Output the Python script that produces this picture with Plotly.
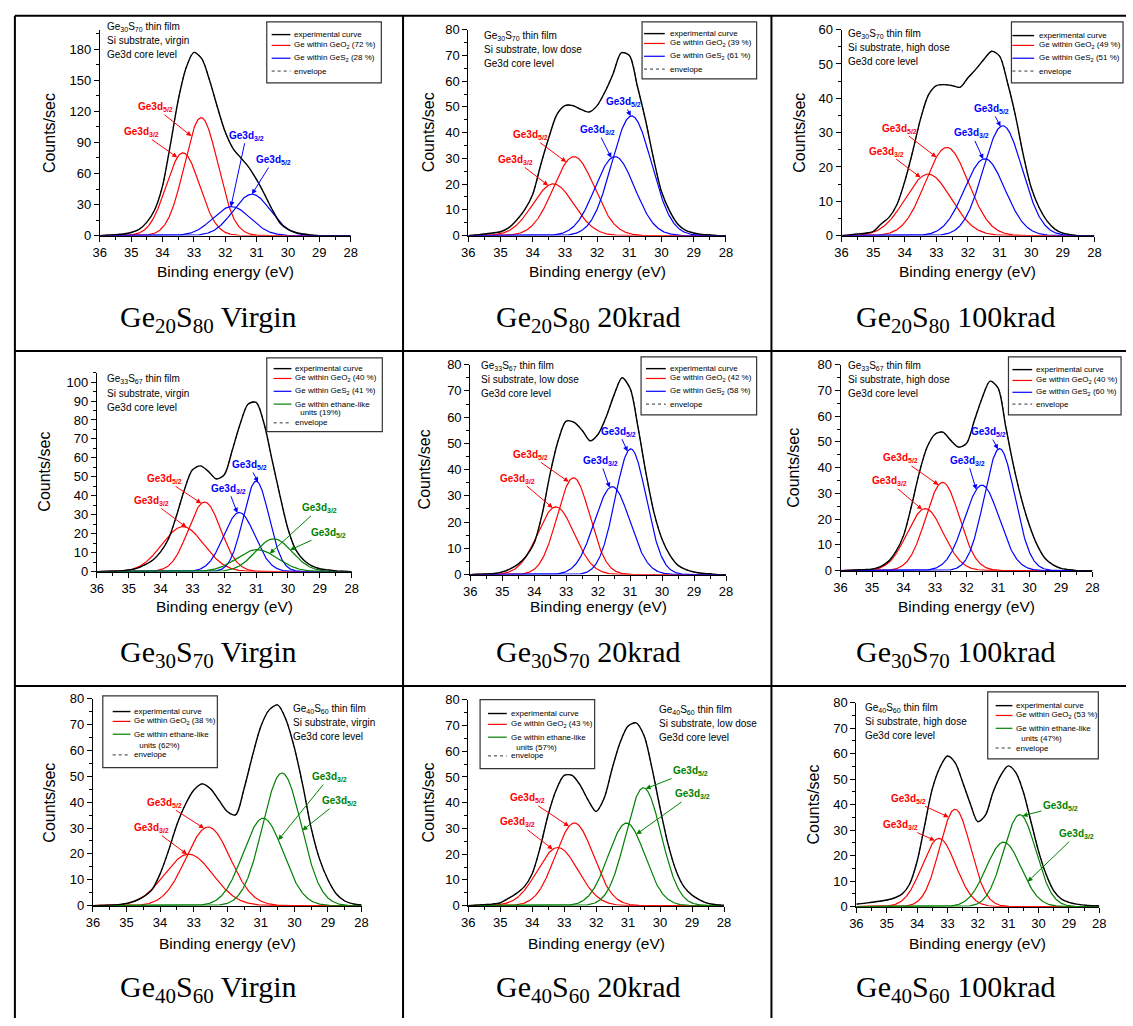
import numpy as np
import plotly.graph_objects as go

W, H = 1133, 1026

# ---------------------------------------------------------------------------
# Measured Ge3d spectra (counts/sec) on a common binding-energy grid (eV)
# ---------------------------------------------------------------------------
ENERGY = [36.0, 35.75, 35.5, 35.25, 35.0, 34.75, 34.5, 34.25, 34.0, 33.75, 33.5,
          33.25, 33.0, 32.75, 32.5, 32.25, 32.0, 31.75, 31.5, 31.25, 31.0, 30.75,
          30.5, 30.25, 30.0, 29.75, 29.5, 29.25, 29.0, 28.75, 28.5, 28.25, 28.0]

EXP_20_VIRGIN = [0, 0.5, 1, 1.5, 3, 6, 13, 25, 48, 88, 131, 162, 177, 171, 150, 124,
                 100, 84, 75, 66, 54, 40, 25, 12, 6, 3, 1.5, 0.5, 0, 0, 0, 0, 0]
EXP_20_20K = [0, 0.3, 0.6, 1, 1.5, 3, 6, 10, 16, 27.5, 38, 47, 50.5, 50.5, 49, 48,
              50.5, 56, 63, 71, 70, 58, 45, 30, 17, 9.6, 4.5, 2, 1, 0.5, 0.3, 0, 0]
EXP_20_100K = [0, 0.2, 0.5, 0.7, 1.2, 3.4, 5.3, 9, 15.8, 24.5, 34, 41, 43.7, 44, 43.7,
               43.2, 46, 48.5, 51.3, 53.7, 52.3, 44.6, 35, 23.5, 14, 8.2, 4.3, 1.9,
               0.7, 0.3, 0, 0, 0]
EXP_30_VIRGIN = [0, 0.1, 0.2, 0.4, 0.9, 1.7, 3.5, 6, 10.4, 17.3, 29.5, 43.3, 53.7, 55.8,
                 52.9, 48.9, 51.1, 64, 78, 88.4, 89.3, 78, 59, 40, 22.5, 11.3, 6, 3,
                 1.5, 0.9, 0.4, 0.2, 0]
EXP_30_20K = [0, 0.1, 0.25, 0.4, 1, 2.2, 4, 7, 12, 23, 38.5, 51, 58.5, 58, 55, 51,
              53.5, 60, 68.5, 75, 71, 56, 38.5, 23.5, 13.5, 7.3, 3.5, 1.9, 1, 0.5,
              0.3, 0, 0]
EXP_30_100K = [0, 0.1, 0.25, 0.4, 0.6, 1.5, 3.4, 7.3, 13.6, 25, 38, 48, 53, 53.8, 50.6,
               48, 49.4, 58.3, 67.2, 73.6, 71, 55.7, 40.4, 27.7, 17.5, 9.8, 4.7, 2.2,
               0.9, 0.4, 0, 0, 0]
EXP_40_VIRGIN = [0, 0.1, 0.2, 0.4, 0.9, 1.8, 3.4, 6, 12.3, 21.2, 31.3, 39, 44.6, 47.1,
                 45.2, 40.8, 36.4, 35.1, 45.2, 57.9, 69.3, 75.7, 77.6, 71.9, 61, 46.5,
                 30, 18, 10, 4.5, 1.8, 0.7, 0.3]
EXP_40_20K = [0, 0.2, 0.4, 0.6, 1.1, 2.8, 4.7, 7.3, 12.4, 22.6, 35.3, 44.9, 50.6, 50.6,
              46.8, 41, 36.6, 41.7, 53.2, 63.4, 69.8, 71, 66, 53.2, 37.9, 23.9, 13.6,
              7.3, 4.1, 2.2, 0.9, 0.4, 0.2]
EXP_40_100K = [1, 1.3, 1.7, 2.1, 2.6, 3.4, 4.9, 8.8, 17.8, 32, 46.2, 54.6, 59.1, 56.5,
               48.8, 40.4, 33.3, 35.9, 44.9, 51.4, 55.2, 52.6, 44.9, 33.3, 21.7, 12.6,
               6.2, 3, 1.7, 1, 0.6, 0.4, 0.3]

# ---------------------------------------------------------------------------
# Fitted components: (centre eV, height counts/sec, FWHM eV)
# ---------------------------------------------------------------------------
FIT_20_VIRGIN = [(33.35, 80, 1.25), (32.77, 114, 1.25), (31.80, 28, 1.4), (31.15, 40, 1.4)]
FIT_20_20K = [(33.36, 20.1, 1.5), (32.72, 30.7, 1.5), (31.45, 30.7, 1.45), (30.93, 46.5, 1.45)]
FIT_20_100K = [(33.26, 17.9, 1.7), (32.67, 25.7, 1.6), (31.47, 22.4, 1.5), (30.90, 32.0, 1.45)]
FIT_30_VIRGIN = [(33.30, 23.7, 1.55), (32.62, 36.7, 1.2), (31.53, 31.2, 1.15),
                 (31.00, 47.7, 0.95), (30.97, 11.6, 1.5), (30.45, 17.3, 1.35)]
FIT_30_20K = [(33.32, 25.8, 1.35), (32.77, 36.9, 1.2), (31.56, 33.5, 1.3), (30.98, 47.9, 1.15)]
FIT_30_100K = [(33.31, 24.1, 1.35), (32.76, 34.3, 1.25), (31.51, 33.2, 1.3), (30.95, 47.4, 1.15)]
FIT_40_VIRGIN = [(33.15, 19.9, 1.7), (32.57, 30.4, 1.55), (30.93, 33.8, 1.4), (30.37, 51.3, 1.35)]
FIT_40_20K = [(33.20, 22.6, 1.5), (32.68, 32.1, 1.4), (31.05, 32.1, 1.35), (30.52, 45.8, 1.3)]
FIT_40_100K = [(33.28, 26.8, 1.3), (32.75, 38.2, 1.2), (31.15, 25.3, 1.35), (30.62, 36.1, 1.25)]

# bonding environment of each component and its spin-orbit level
PHASE_TWO = ["GeO2", "GeO2", "GeS2", "GeS2"]
PHASE_THREE = ["GeO2", "GeO2", "GeS2", "GeS2", "ethane", "ethane"]
PHASE_ETHANE = ["GeO2", "GeO2", "ethane", "ethane"]
LEVEL_TWO = ["3/2", "5/2", "3/2", "5/2"]
LEVEL_THREE = ["3/2", "5/2", "3/2", "5/2", "3/2", "5/2"]

# phase fractions quoted in the legends (%)
GEO2_SHARE = [72, 39, 49, 40, 42, 40, 38, 43, 53]
GES2_SHARE = [28, 61, 51, 41, 58, 60, None, None, None]
ETHANE_SHARE = [None, None, None, 19, None, None, 62, 57, 47]

COMPOSITION = ["Ge<sub>20</sub>S<sub>80</sub>", "Ge<sub>30</sub>S<sub>70</sub>",
               "Ge<sub>40</sub>S<sub>60</sub>"]
FILM_LABEL = ["Ge<sub>30</sub>S<sub>70</sub>", "Ge<sub>33</sub>S<sub>67</sub>",
              "Ge<sub>40</sub>S<sub>60</sub>"]
DOSE = ["Virgin", "20krad", "100krad"]
DOSE_TEXT = ["virgin", "low dose", "high dose"]

COLORS = {"GeO2": "#ff0000", "GeS2": "#0000ff", "ethane": "#008000"}

# ---------------------------------------------------------------------------
# Page geometry (pixels)
# ---------------------------------------------------------------------------
# x_left, x_right, y_top, y_zero, ymax, dtick, minor dtick
AXES_PX = [
    (94, 348, 23, 232, 199, 30, 15),
    (467, 728, 23, 232, 80, 10, 5),
    (845, 1101, 23, 232, 60, 10, 5),
    (91, 349, 371, 573, 105, 10, 5),
    (469, 728, 363, 576, 80, 10, 5),
    (844, 1099, 363, 572, 80, 10, 5),
    (87, 359, 702, 912, 80, 10, 5),
    (467, 726, 703, 912, 80, 10, 5),
    (860, 1106, 706, 913, 80, 10, 5),
]
YTITLE_X = [43, 427, 803, 38, 423, 797, 43, 427, 817]
XTITLE_Y = [268, 608, 950]
CAPTION_X = [204, 588, 960]
CAPTION_Y = [317, 657, 997]
INFO_POS = [(99, 20), (481, 29), (850, 27), (99, 378), (478, 364), (850, 364),
            (288, 712), (658, 713), (867, 711)]
INFO_STEP = 14

# legend: box (x0, y0, x1, y1), sample line x0, x1, text x, row y's
LEGEND_PX = [
    ((263, 15, 379, 77), 268, 287, 289, [28, 39, 52, 65]),
    ((643, 15, 759, 73), 645, 666, 669, [27, 37, 50, 63]),
    ((1017, 15, 1130, 77), 1018, 1040, 1043, [29, 39, 52, 65]),
    ((263, 356, 380, 431), 270, 288, 290, [367, 377, 390, 403, 412, 422]),
    ((642, 355, 759, 414), 647, 667, 669, [367, 377, 390, 403]),
    ((1014, 355, 1128, 414), 1018, 1038, 1040, [368, 379, 391, 403]),
    ((97, 699, 213, 772), 107, 125, 127, [715, 725, 738, 749, 759]),
    ((479, 703, 595, 773), 487, 506, 508, [717, 728, 741, 751, 760]),
    ((993, 695, 1105, 763), 1001, 1018, 1020, [709, 719, 732, 742, 752]),
]

# peak labels: (component index, arrow-tip energy, label energy, label height)
PEAK_LABELS = [
    [(0, 33.53, 34.68, 100), (1, 33.08, 34.24, 124), (2, 31.82, 31.33, 96.5), (3, 31.15, 30.47, 73)],
    [(0, 33.52, 34.54, 29.4), (1, 32.96, 34.08, 39), (2, 31.56, 31.99, 41), (3, 30.96, 31.17, 51.9)],
    [(0, 33.50, 34.59, 24.5), (1, 33.00, 34.18, 31.2), (2, 31.52, 31.89, 29.8), (3, 30.97, 31.26, 36.9)],
    [(0, 33.19, 34.29, 37.3), (1, 32.72, 33.88, 48.9), (2, 31.59, 31.88, 43.7), (3, 30.94, 31.22, 56.3),
     (4, 30.57, 29.02, 33.4), (5, 29.93, 28.74, 20.5)],
    [(0, 33.42, 34.51, 36.6), (1, 32.92, 34.12, 45.6), (2, 31.64, 31.93, 43.3), (3, 31.08, 31.36, 54.5)],
    [(0, 33.41, 34.46, 34.7), (1, 32.89, 34.09, 43.6), (2, 31.69, 31.97, 42.7), (3, 31.00, 31.29, 53.8)],
    [(0, 33.20, 34.25, 30), (1, 32.69, 33.88, 39.8), (2, 30.48, 28.96, 49.7), (3, 29.76, 28.67, 40.4)],
    [(0, 33.36, 34.45, 32.4), (1, 32.85, 34.16, 41.7), (3, 30.45, 29.05, 52.3), (2, 30.74, 29.00, 43.2)],
    [(0, 33.42, 34.54, 32), (1, 32.96, 34.27, 42.3), (3, 30.53, 29.28, 39.5), (2, 30.36, 28.74, 28.4)],
]

EXPS = [EXP_20_VIRGIN, EXP_20_20K, EXP_20_100K, EXP_30_VIRGIN, EXP_30_20K, EXP_30_100K,
        EXP_40_VIRGIN, EXP_40_20K, EXP_40_100K]
FITS = [FIT_20_VIRGIN, FIT_20_20K, FIT_20_100K, FIT_30_VIRGIN, FIT_30_20K, FIT_30_100K,
        FIT_40_VIRGIN, FIT_40_20K, FIT_40_100K]
PHASES = [PHASE_TWO, PHASE_TWO, PHASE_TWO, PHASE_THREE, PHASE_TWO, PHASE_TWO,
          PHASE_ETHANE, PHASE_ETHANE, PHASE_ETHANE]
LEVELS = [LEVEL_TWO, LEVEL_TWO, LEVEL_TWO, LEVEL_THREE, LEVEL_TWO, LEVEL_TWO,
          LEVEL_TWO, LEVEL_TWO, LEVEL_TWO]

SANS = "Arial, Liberation Sans, sans-serif"
SERIF = "Times New Roman, Liberation Serif, serif"


def px(x):
    return x / W


def py(y):
    return 1 - y / H


def gauss(x, centre, height, fwhm):
    sigma = fwhm / 2.3548
    return height * np.exp(-0.5 * ((np.asarray(x) - centre) / sigma) ** 2)


fig = go.Figure()
shapes = []
annotations = []
layout_axes = {}
grid = np.linspace(36, 28, 801)

for i in range(9):
    n = i + 1
    suffix = "" if n == 1 else str(n)
    xa, ya = "x" + suffix, "y" + suffix
    x0, x1, ytop, yzero, ymax, dtick, minor = AXES_PX[i]

    # fitted components
    for comp, phase in zip(FITS[i], PHASES[i]):
        fig.add_trace(go.Scatter(
            x=grid, y=gauss(grid, *comp), mode="lines", xaxis=xa, yaxis=ya,
            line=dict(color=COLORS[phase], width=1.2), showlegend=False,
            hoverinfo="skip"))
    # fit envelope and experimental curve
    fig.add_trace(go.Scatter(
        x=ENERGY, y=EXPS[i], mode="lines", xaxis=xa, yaxis=ya,
        line=dict(color="#444444", width=1, dash="dot", shape="spline"),
        showlegend=False, hoverinfo="skip"))
    fig.add_trace(go.Scatter(
        x=ENERGY, y=EXPS[i], mode="lines", xaxis=xa, yaxis=ya,
        line=dict(color="#000000", width=1.4, shape="spline", smoothing=0.8),
        showlegend=False, hoverinfo="skip"))

    tickfont = dict(family=SANS, size=13, color="#000000")
    layout_axes["xaxis" + suffix] = dict(
        domain=[px(x0), px(x1)], range=[36, 28], anchor=ya, showline=True,
        linecolor="#000000", linewidth=1, ticks="outside", ticklen=5, tickwidth=1,
        tickcolor="#000000", dtick=1, tick0=0, showgrid=False, zeroline=False,
        tickfont=tickfont, layer="below traces",
        minor=dict(ticks="outside", ticklen=3, dtick=0.5, tick0=0,
                   tickcolor="#000000", showgrid=False))
    layout_axes["yaxis" + suffix] = dict(
        domain=[py(yzero), py(ytop)], range=[0, ymax], anchor=xa, showline=True,
        linecolor="#000000", linewidth=1, ticks="outside", ticklen=5, tickwidth=1,
        tickcolor="#000000", dtick=dtick, tick0=0, showgrid=False, zeroline=False,
        tickfont=tickfont, layer="below traces",
        minor=dict(ticks="outside", ticklen=3, dtick=minor, tick0=0,
                   tickcolor="#000000", showgrid=False))

    row, col = divmod(i, 3)

    # axis titles
    annotations.append(dict(
        x=px(YTITLE_X[i]), y=py((ytop + yzero) / 2), xref="paper", yref="paper",
        text="Counts/sec", textangle=-90, showarrow=False, xanchor="center",
        yanchor="middle", font=dict(family=SANS, size=16, color="#000000")))
    annotations.append(dict(
        x=px((x0 + x1) / 2), y=py(XTITLE_Y[row]), xref="paper", yref="paper",
        text="Binding energy (eV)", showarrow=False, xanchor="center",
        yanchor="middle", font=dict(family=SANS, size=15.5, color="#000000")))
    # caption
    annotations.append(dict(
        x=px(CAPTION_X[col]), y=py(CAPTION_Y[row]), xref="paper", yref="paper",
        text=f"{COMPOSITION[row]} {DOSE[col]}", showarrow=False, xanchor="center",
        yanchor="middle", font=dict(family=SERIF, size=30, color="#000000")))
    # sample description
    ix, iy = INFO_POS[i]
    info = [f"{FILM_LABEL[row]} thin film", f"Si substrate, {DOSE_TEXT[col]}",
            "Ge3d core level"]
    for k, line in enumerate(info):
        annotations.append(dict(
            x=px(ix), y=py(iy + k * INFO_STEP), xref="paper", yref="paper",
            text=line, showarrow=False, xanchor="left", yanchor="middle",
            font=dict(family=SANS, size=10, color="#000000")))

    # peak labels with arrows
    for comp_idx, tip_e, lab_e, lab_y in PEAK_LABELS[i]:
        comp = FITS[i][comp_idx]
        color = COLORS[PHASES[i][comp_idx]]
        annotations.append(dict(
            x=tip_e, y=float(gauss(tip_e, *comp)), xref=xa, yref=ya,
            ax=lab_e, ay=lab_y, axref=xa, ayref=ya,
            text=f"<b>Ge3d<sub>{LEVELS[i][comp_idx]}</sub></b>",
            showarrow=True, arrowhead=2, arrowsize=1, arrowwidth=1,
            arrowcolor=color, standoff=0,
            font=dict(family=SANS, size=10, color=color)))

    # legend box
    (bx0, by0, bx1, by1), sx0, sx1, tx, rows = LEGEND_PX[i]
    shapes.append(dict(type="rect", xref="paper", yref="paper",
                       x0=px(bx0), x1=px(bx1), y0=py(by0), y1=py(by1),
                       line=dict(color="#333333", width=1.2), fillcolor="#ffffff",
                       layer="above"))
    entries = [("exp", "experimental curve")]
    entries.append(("GeO2", f"Ge within GeO<sub>2</sub> ({GEO2_SHARE[i]} %)"))
    if GES2_SHARE[i] is not None:
        entries.append(("GeS2", f"Ge within GeS<sub>2</sub> ({GES2_SHARE[i]} %)"))
    if ETHANE_SHARE[i] is not None:
        entries.append(("ethane", "Ge within ethane-like"))
        entries.append((None, f" units ({ETHANE_SHARE[i]}%)"))
    entries.append(("env", "envelope"))
    for (kind, label), ry in zip(entries, rows):
        if kind is not None:
            if kind == "exp":
                ln = dict(color="#000000", width=1.4)
            elif kind == "env":
                ln = dict(color="#333333", width=1, dash="dot")
            else:
                ln = dict(color=COLORS[kind], width=1.2)
            shapes.append(dict(type="line", xref="paper", yref="paper",
                               x0=px(sx0), x1=px(sx1), y0=py(ry), y1=py(ry),
                               line=ln, layer="above"))
        annotations.append(dict(
            x=px(tx + (3 if kind is None else 0)), y=py(ry), xref="paper",
            yref="paper", text=label, showarrow=False, xanchor="left",
            yanchor="middle", font=dict(family=SANS, size=8, color="#000000")))

# table rules around the panels
rule = dict(color="#000000", width=2)
for y in (9, 349, 689):
    shapes.append(dict(type="line", xref="paper", yref="paper", x0=px(8), x1=1,
                       y0=py(y), y1=py(y), line=rule))
for x in (8, 401, 774):
    shapes.append(dict(type="line", xref="paper", yref="paper", x0=px(x), x1=px(x),
                       y0=py(9), y1=0, line=rule))

fig.update_layout(
    width=W, height=H, margin=dict(l=0, r=0, t=0, b=0),
    paper_bgcolor="#ffffff", plot_bgcolor="#ffffff",
    font=dict(family=SANS, color="#000000"), showlegend=False,
    shapes=shapes, annotations=annotations, **layout_axes)

fig.write_html("out.html", config=dict(displayModeBar=False))
